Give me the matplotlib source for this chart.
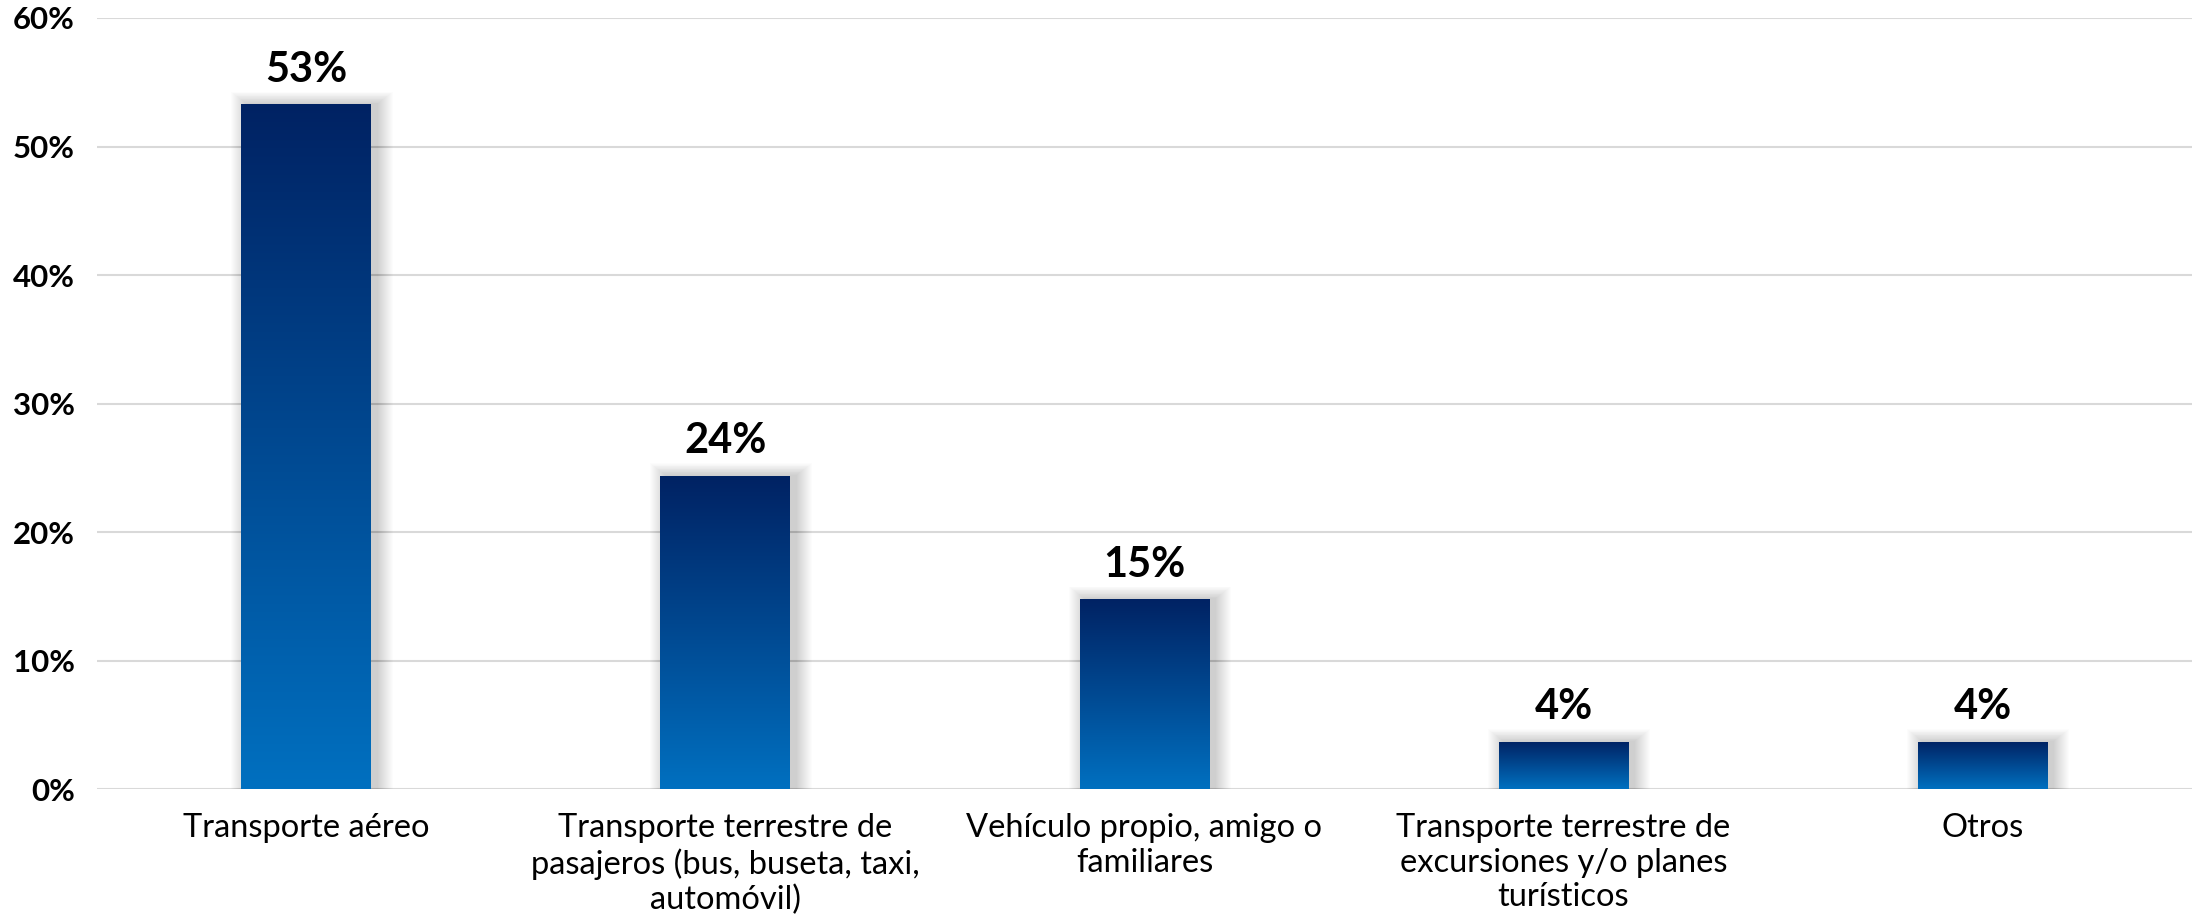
import numpy as np
import matplotlib.pyplot as plt
from matplotlib.colors import LinearSegmentedColormap

plt.rcParams['font.family'] = ['Lato', 'DejaVu Sans']

categories = ['Transporte aéreo',
              'Transporte terrestre de\npasajeros (bus, buseta, taxi,\nautomóvil)',
              'Vehículo propio, amigo o\nfamiliares',
              'Transporte terrestre de\nexcursiones y/o planes\nturísticos',
              'Otros']
values = [53.3, 24.4, 14.8, 3.7, 3.7]
yticks = [0, 10, 20, 30, 40, 50, 60]

fig = plt.figure(figsize=(22.02, 9.23), dpi=100)
ax = fig.add_axes([0.044, 0.145, 0.9515, 0.8355])

x = np.arange(len(categories))
w = 0.31

# gradient: navy at top, blue at bottom
cmap = LinearSegmentedColormap.from_list('grad', ['#0070c0', '#002263'])
grad = np.linspace(0, 1, 256).reshape(-1, 1)

# soft drop shadow, mostly to the right
for i, v in enumerate(values):
    for k in range(16):
        ext = 0.0024 * (k + 1)
        ax.bar(x[i] + 0.014, v + 0.06 * (k + 1), width=w + 2 * ext,
               color='black', alpha=0.012, linewidth=0, zorder=2)

bars = ax.bar(x, values, width=w, color='#0070c0', linewidth=0, zorder=3)
for b in bars:
    x0, y0 = b.get_x(), b.get_y()
    im = ax.imshow(grad, cmap=cmap, aspect='auto', origin='lower',
                   extent=[x0, x0 + b.get_width(), y0, y0 + b.get_height()],
                   zorder=4)
    im.set_clip_path(b)

for xi, v in zip(x, values):
    ax.annotate(f'{round(v)}%', (xi, v), xytext=(0, 11), textcoords='offset points',
                ha='center', va='bottom', fontsize=30, fontweight='bold', color='black')

ax.set_xlim(-0.5, len(categories) - 0.5)
ax.set_ylim(0, 60)
ax.set_yticks(yticks)
ax.set_yticklabels([f'{t}%' for t in yticks], fontsize=22.5, fontweight='bold')
ax.set_xticks(x)
ax.set_xticklabels(categories, fontsize=23.5, linespacing=1.2)
ax.tick_params(axis='both', length=0)
ax.tick_params(axis='y', pad=16)
ax.tick_params(axis='x', pad=17)
ax.grid(axis='y', color='#d9d9d9', linewidth=1.5, zorder=0)
ax.set_axisbelow(True)
for s in ax.spines.values():
    s.set_visible(False)

fig.savefig('out.png', dpi=100)
